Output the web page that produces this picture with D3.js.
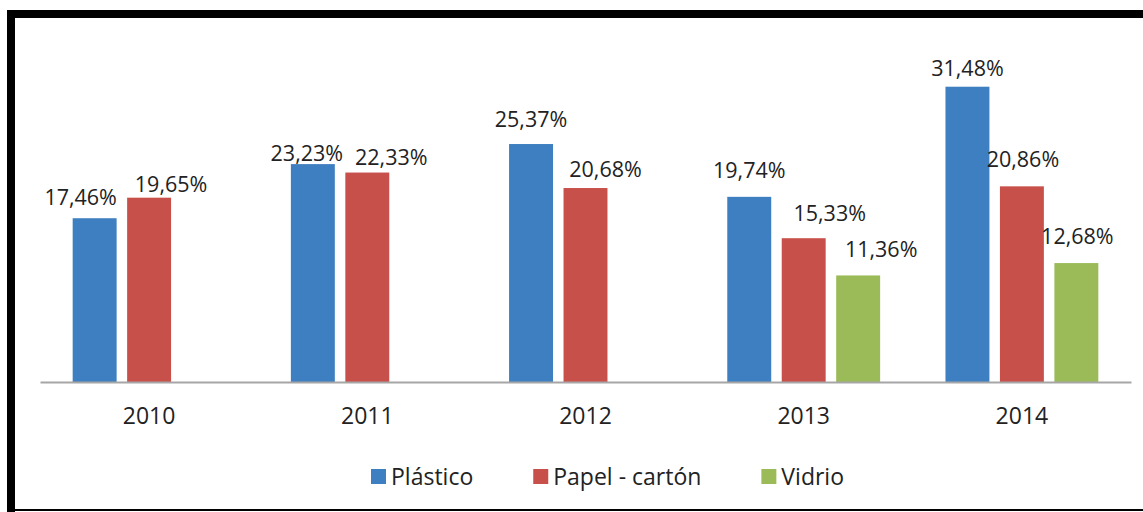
<!DOCTYPE html>
<html>
<head>
<meta charset="utf-8">
<script src="https://cdn.jsdelivr.net/npm/d3@7"></script>
<style>
    body { margin: 0; background: #fff; }
    svg { display: block; font-family: 'Open Sans', sans-serif; }
</style>
</head>
<body>
<div id="chart"></div>
<script>
// values
const years = ['2010', '2011', '2012', '2013', '2014'];
const seriesNames = ['Plástico', 'Papel - cartón', 'Vidrio'];
const plastico = [17.46, 23.23, 25.37, 19.74, 31.48];
const papel = [19.65, 22.33, 20.68, 15.33, 20.86];
const vidrio = [null, null, null, 11.36, 12.68];
const seriesColors = ['#3d7fc0', '#c8504a', '#9bbb59'];

// labels were hand-placed in the original, so keep their nudges apart
const labelDx = [[-14, -6, 0, 0, 0], [22, 24, 20, 26, 1], [0, 0, 0, 23, 1]];
const labelGap = [[13, 3, 17, 19, 11], [6, 8, 11, 17, 19], [0, 0, 0, 18, 19]];

const width = 1143, height = 512;
const left = 40, right = 1131, baseY = 382;

const svg = d3.select('#chart').append('svg')
    .attr('width', width)
    .attr('height', height);

svg.append('rect')
    .attr('width', width)
    .attr('height', height)
    .attr('fill', '#fff');

// frame: thick top and left, thin bottom
svg.append('rect').attr('x', 7).attr('y', 10).attr('width', width - 7).attr('height', 8).attr('fill', '#000');
svg.append('rect').attr('x', 7).attr('y', 10).attr('width', 8).attr('height', height - 10).attr('fill', '#000');
svg.append('rect').attr('x', 7).attr('y', 509).attr('width', width - 7).attr('height', 2).attr('fill', '#000');

let x0 = d3.scaleBand()
    .domain(years)
    .range([left, right])
    .padding(0);

let x1 = d3.scaleBand()
    .domain(seriesNames)
    .range([0, x0.bandwidth()])
    .paddingInner(0.193)
    .paddingOuter(0.6);

let y = d3.scaleLinear()
    .domain([0, 35])
    .range([baseY, baseY - 35 * 9.38]);

let values = [plastico, papel, vidrio];
let rows = [];
values.forEach((vals, si) => {
    vals.forEach((v, yi) => {
        if (v === null) return;
        rows.push({ s: si, year: years[yi], yi: yi, value: v });
    });
});

svg.selectAll('.bar')
    .data(rows)
    .enter()
    .append('rect')
    .attr('class', 'bar')
    .attr('x', d => x0(d.year) + x1(seriesNames[d.s]))
    .attr('y', d => y(d.value))
    .attr('width', x1.bandwidth())
    .attr('height', d => baseY - y(d.value))
    .attr('fill', d => seriesColors[d.s]);

svg.selectAll('.val')
    .data(rows)
    .enter()
    .append('text')
    .attr('class', 'val')
    .attr('x', d => x0(d.year) + x1(seriesNames[d.s]) + x1.bandwidth() / 2 + labelDx[d.s][d.yi])
    .attr('y', d => y(d.value) - labelGap[d.s][d.yi])
    .attr('text-anchor', 'middle')
    .style('font-size', '21.5px')
    .style('fill', '#222')
    .text(d => d.value.toFixed(2).replace('.', ',') + '%');

// category axis
let xAxis = d3.axisBottom(x0).tickSize(0).tickPadding(26);
let axisG = svg.append('g')
    .attr('transform', `translate(0, ${baseY})`)
    .call(xAxis);
axisG.select('.domain')
    .attr('stroke', '#a6a6a6')
    .attr('stroke-width', 2);
axisG.selectAll('text')
    .style('font-size', '23px')
    .style('font-family', "'Open Sans', sans-serif")
    .style('fill', '#222');

// legend
let legend = svg.append('g').attr('transform', 'translate(371, 469)');
let lx = 0;
seriesNames.forEach((name, i) => {
    let item = legend.append('g').attr('transform', `translate(${lx}, 0)`);
    item.append('rect')
        .attr('width', 15)
        .attr('height', 15)
        .attr('fill', seriesColors[i]);
    let t = item.append('text')
        .attr('x', 20)
        .attr('y', 16)
        .style('font-size', '23px')
        .style('fill', '#222')
        .text(name);
    lx += 20 + t.node().getComputedTextLength() + 60;
});
</script>
</body>
</html>
